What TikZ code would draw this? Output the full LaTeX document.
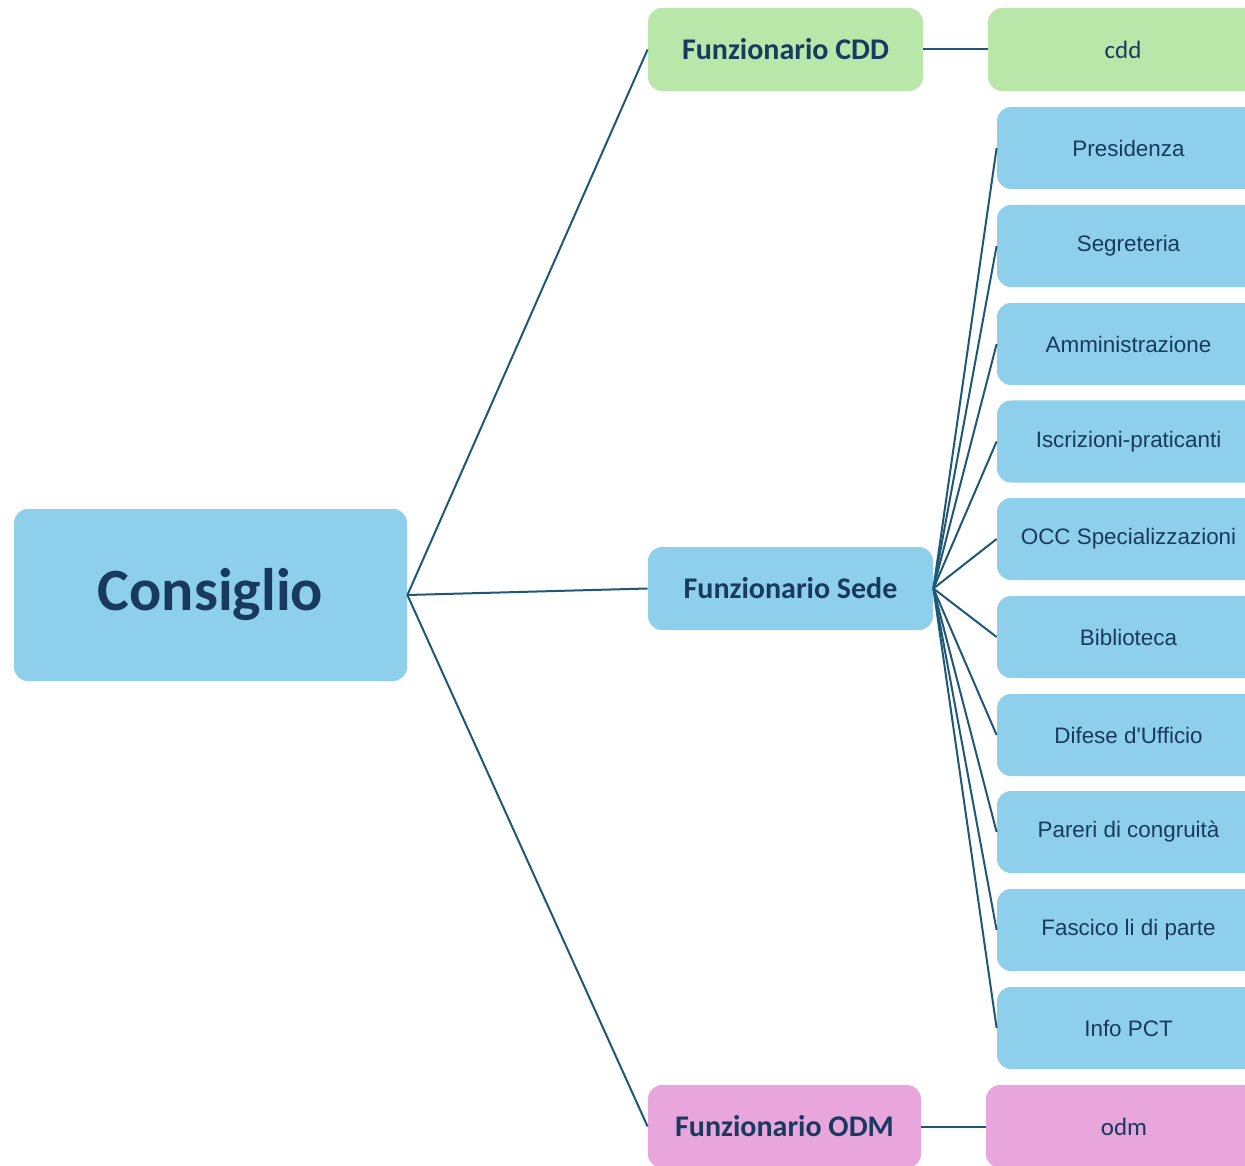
\documentclass[tikz,border=0pt]{standalone}
\usepackage{fontspec}
\setmainfont{Carlito}
\newfontfamily\leaffont{Liberation Sans}[Ligatures={NoCommon}]
\definecolor{boxblue}{HTML}{8ECFEB}
\definecolor{boxgreen}{HTML}{B9E6A9}
\definecolor{boxpink}{HTML}{E8A6DC}
\definecolor{txtnavy}{HTML}{173A5E}
\definecolor{linknavy}{HTML}{1F5776}
\tikzset{
  box/.style={rounded corners=7pt, inner sep=0pt, text=txtnavy, align=center},
  head/.style={box, minimum height=41.5pt, font=\fontsize{15}{18}\selectfont\bfseries},
  leaf/.style={box, minimum height=41pt, font=\leaffont\fontsize{11.2}{14}\selectfont},
  link/.style={draw=linknavy, line width=1pt}
}
\begin{document}
\begin{tikzpicture}[x=0.5pt, y=-0.5pt]
    \useasboundingbox (0,0) rectangle (1245,1165);

    \coordinate (c01) at (210.5, 595);
    \coordinate (c02) at (785.5, 49.5);
    \coordinate (c03) at (790.5,588.5);
    \coordinate (c04) at (784.5,1126.5);
    \coordinate (c05) at (1123, 49.5);
    \coordinate (c06) at (1124,1126.5);

    \coordinate (r01) at (1128.5, 148);
    \coordinate (r02) at (1128.5, 246);
    \coordinate (r03) at (1128.5, 344);
    \coordinate (r04) at (1128.5,441.5);
    \coordinate (r05) at (1128.5, 539);
    \coordinate (r06) at (1128.5, 637);
    \coordinate (r07) at (1128.5, 735);
    \coordinate (r08) at (1128.5, 832);
    \coordinate (r09) at (1128.5, 930);
    \coordinate (r10) at (1128.5,1028);

    \node[box, fill=boxblue, minimum width=196.5pt, minimum height=86pt,
          font=\fontsize{30}{36}\selectfont\bfseries] (consiglio) at (c01) {Consiglio};

    \node[head, fill=boxgreen, minimum width=137.5pt] (fcdd)  at (c02) {Funzionario CDD};
    \node[head, fill=boxblue,  minimum width=142.5pt] (fsede) at (c03) {Funzionario Sede};
    \node[head, fill=boxpink,  minimum width=136.5pt] (fodm)  at (c04) {Funzionario ODM};

    \node[box, fill=boxgreen, minimum width=135pt, minimum height=41.5pt,
          font=\fontsize{12.5}{15}\selectfont] (cdd) at (c05) {cdd};
    \node[box, fill=boxpink,  minimum width=138pt, minimum height=41.5pt,
          font=\fontsize{12.5}{15}\selectfont] (odm) at (c06) {odm};

    \node[leaf, fill=boxblue, minimum width=131.5pt] (s01) at (r01) {Presidenza};
    \node[leaf, fill=boxblue, minimum width=131.5pt] (s02) at (r02) {Segreteria};
    \node[leaf, fill=boxblue, minimum width=131.5pt] (s03) at (r03) {Amministrazione};
    \node[leaf, fill=boxblue, minimum width=131.5pt] (s04) at (r04) {Iscrizioni-praticanti};
    \node[leaf, fill=boxblue, minimum width=131.5pt] (s05) at (r05) {OCC Specializzazioni};
    \node[leaf, fill=boxblue, minimum width=131.5pt] (s06) at (r06) {Biblioteca};
    \node[leaf, fill=boxblue, minimum width=131.5pt] (s07) at (r07) {Difese d\textquotesingle Ufficio};
    \node[leaf, fill=boxblue, minimum width=131.5pt] (s08) at (r08) {Pareri di congruità};
    \node[leaf, fill=boxblue, minimum width=131.5pt] (s09) at (r09) {Fascico li di parte};
    \node[leaf, fill=boxblue, minimum width=131.5pt] (s10) at (r10) {Info PCT};

    \draw[link] (consiglio.east) -- (fcdd.west);
    \draw[link] (consiglio.east) -- (fsede.west);
    \draw[link] (consiglio.east) -- (fodm.west);

    \draw[link] (fcdd.east) -- (cdd.west);
    \draw[link] (fodm.east) -- (odm.west);

    \foreach \s in {s01,s02,s03,s04,s05,s06,s07,s08,s09,s10}
        \draw[link] (fsede.east) -- (\s.west);

\end{tikzpicture}
\end{document}
